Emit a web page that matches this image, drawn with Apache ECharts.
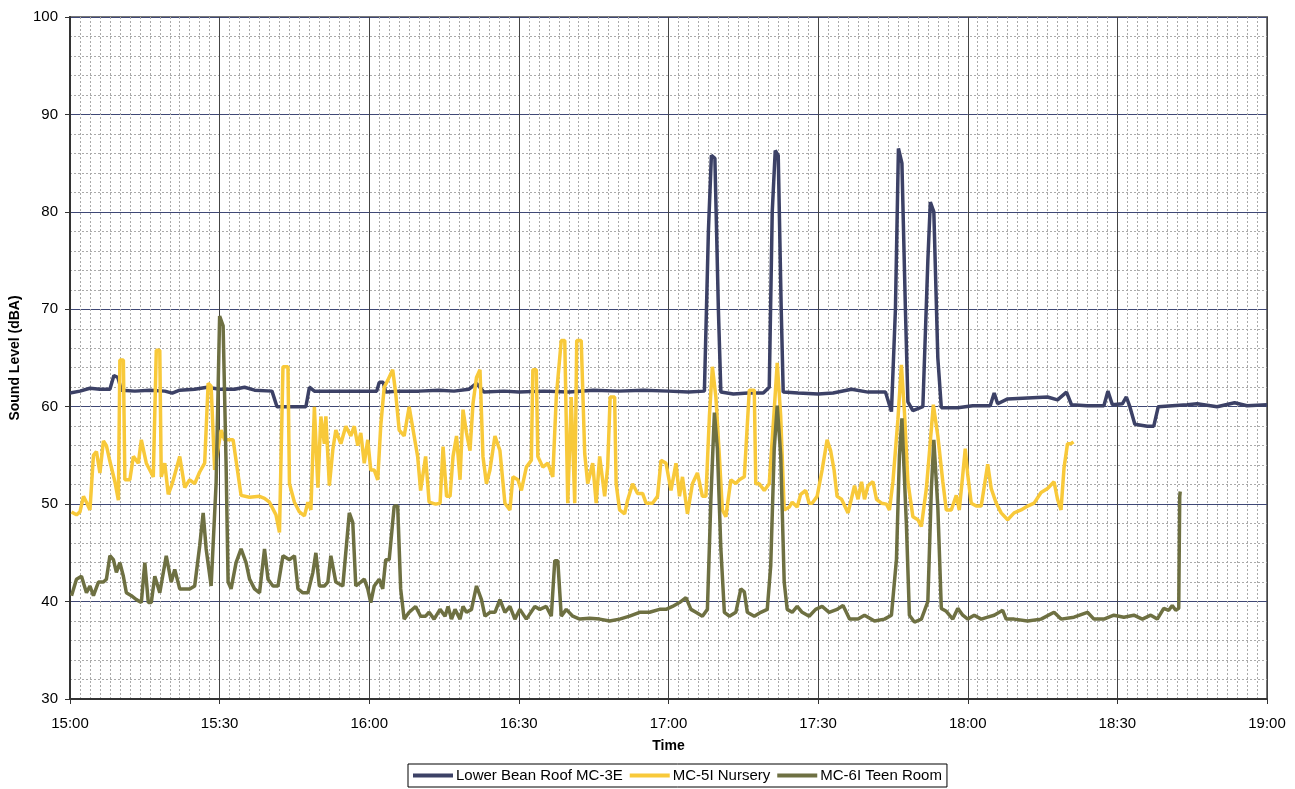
<!DOCTYPE html>
<html>
<head>
<meta charset="utf-8">
<script src="https://cdn.jsdelivr.net/npm/echarts@6/dist/echarts.min.js"></script>
<style>html,body{margin:0;padding:0;background:#fff}#c{width:1295px;height:789px}</style>
</head>
<body>
<div id="c"></div>
<script>
// time in minutes after 15:00, value in dBA
const tickLabels = ['15:00','15:30','16:00','16:30','17:00','17:30','18:00','18:30','19:00'];
const seriesNames = ['Lower Bean Roof MC-3E','MC-5I Nursery','MC-6I Teen Room'];

const roofData = [[0,61.4],[2,61.6],[4,61.9],[6,61.8],[8,61.8],[8.8,63.2],[9.6,63.0],[10.3,61.7],[13,61.6],[16,61.7],[19,61.6],[20.5,61.4],[22,61.7],[25,61.8],[27.5,62.0],[30,61.8],[33,61.8],[35,62.0],[37,61.7],[40.5,61.6],[41.5,60.0],[44,60.0],[47.3,60.0],[48,62.0],[49,61.6],[52,61.6],[56,61.6],[60,61.6],[61.5,61.6],[62,62.5],[62.8,62.5],[63.3,61.5],[66,61.6],[70,61.6],[74,61.7],[77,61.6],[80,61.8],[81.5,62.4],[83,61.5],[87,61.6],[90,61.5],[95,61.6],[100,61.5],[105,61.7],[110,61.6],[115,61.7],[120,61.6],[124,61.5],[127.2,61.6],[128,78],[128.6,85.8],[129.3,85.5],[130,70],[130.5,61.5],[133,61.3],[136,61.4],[139,61.4],[140.2,62],[140.8,80],[141.4,86.3],[142,85.8],[142.6,70],[143,61.5],[146,61.4],[150,61.3],[153,61.4],[156.7,61.8],[160,61.5],[163.5,61.5],[164.7,59.5],[165.5,70],[166.1,86.5],[166.8,85],[167.5,70],[168,60.5],[169,59.6],[171,60],[172,75],[172.5,81],[173.2,80],[174,65],[174.7,59.9],[178,59.9],[181,60.1],[184.5,60.1],[185.3,61.4],[186,60.3],[188,60.8],[192,60.9],[196,61.0],[198,60.7],[199.8,61.5],[200.8,60.2],[204,60.1],[207.3,60.1],[208.1,61.6],[209,60.2],[211,60.3],[211.8,61],[212.5,60],[213.5,58.2],[216,58.0],[217.3,58],[218.2,60],[221,60.1],[224,60.2],[226,60.3],[230,60],[233.5,60.4],[236,60.1],[240,60.2]];

const nurseryData = [[0.3,49.2],[1.3,48.9],[2,49.2],[2.7,50.8],[3.3,50.2],[4,49.4],[4.7,55],[5.3,55.4],[6,53.2],[6.7,56.5],[7.3,56],[8,54.4],[9,52.3],[9.7,50.4],[10,64.8],[10.7,64.8],[11,52.5],[12,52.5],[12.7,54.9],[13.7,54.2],[14.3,56.6],[15.3,54.2],[16,53.5],[16.7,52.8],[17.3,65.8],[18,65.8],[18.3,52.8],[19,54.2],[19.7,51],[20.5,52.1],[22,54.9],[23,51.7],[24,52.5],[25,52.1],[26,53.3],[27,54.2],[27.7,62.4],[28.3,62.1],[29,53.5],[30.3,57.6],[31,56.6],[32.7,56.6],[34.3,50.9],[36,50.7],[38,50.8],[39,50.6],[40,50.2],[41.3,48.9],[42,47.1],[42.7,64.1],[43.7,64.1],[44,52.1],[45,50.2],[46,49.2],[47,48.8],[47.7,50.2],[48.3,49.4],[49,60],[49.7,51.7],[50.3,59],[51,56.2],[51.3,59],[52,51.9],[52.7,55.6],[53.3,57.6],[54.3,56.2],[55.3,58],[56.3,57],[57,58],[57.7,56],[58.3,57.3],[59,54.2],[59.7,56.6],[60.3,53.5],[61,53.5],[61.7,52.5],[62.3,58],[63,62],[63.7,62.7],[64.7,63.8],[65.3,61.4],[66,57.6],[67,57],[68,60],[69,57],[69.7,54.9],[70.3,51.4],[71.3,54.9],[72,50.2],[73.3,50],[74.2,50.1],[74.8,55.9],[75.5,50.8],[76.2,50.8],[76.8,54.9],[77.5,57],[78.2,52.5],[78.8,59.7],[79.5,57.3],[80.2,55.5],[80.8,60.3],[81.5,63],[82.2,63.8],[82.8,54.9],[83.5,52.1],[84.2,53.5],[85.2,57],[86.2,55.5],[87.2,50.1],[88.2,49.4],[88.8,52.8],[89.8,52.5],[90.5,51.4],[91.5,53.8],[92.5,54.5],[92.8,63.8],[93.5,63.8],[93.8,54.9],[94.8,53.8],[95.8,54.2],[96.8,52.8],[97.5,61],[98.5,66.8],[99.2,66.8],[99.8,50.1],[100.5,61],[101.2,50.1],[101.6,66.8],[102.5,66.8],[103.2,55.2],[103.8,52.1],[104.8,54.2],[105.5,50.1],[106.2,54.9],[107.2,50.8],[107.8,53.8],[108.3,61],[109.2,61],[109.5,52.1],[110.2,49.4],[111.2,49],[111.8,50.4],[112.8,52.1],[113.8,51.1],[114.8,51.1],[115.5,50.1],[116.8,50.1],[117.8,50.8],[118.5,54.5],[119.5,54.2],[120.5,51.4],[121.5,54.2],[122.2,50.8],[122.8,52.8],[123.8,49],[124.8,52.1],[125.8,53.2],[126.8,50.8],[127.5,50.8],[128.2,59],[128.8,64.1],[129.5,61],[130.2,54.9],[130.8,49.4],[131.5,48.7],[132.5,52.5],[133.5,52.1],[134.2,52.5],[135.2,52.8],[136.2,61.7],[137.2,61.7],[137.5,52.1],[138.2,52.1],[139.2,51.4],[140.2,52.1],[141.2,59.7],[141.8,64.5],[142.5,59],[143.2,49.4],[144.2,49.7],[144.8,50.2],[145.8,49.7],[146.5,51],[147.5,51.4],[148.2,50.1],[148.8,50.1],[149.8,50.8],[150.8,53.5],[151.8,56.6],[152.5,55.5],[153.2,53.5],[153.8,50.8],[154.7,50.5],[156,49.1],[157.3,51.9],[158,50.5],[158.7,52.3],[159.3,50.5],[160,51.9],[161,52.3],[161.7,50.5],[162.7,50.1],[163.7,50],[164.3,49.4],[165,52.3],[166,58.7],[166.7,64.3],[167.3,59.5],[168,52.3],[169,48.7],[170,48.4],[170.7,47.7],[171.7,51.6],[172.3,55.2],[173.1,60.2],[174,57],[175,52.3],[175.7,49.4],[176.7,49.4],[177.7,50.9],[178.3,49.4],[179,53],[179.5,55.7],[180,53],[180.7,50.1],[181.7,49.8],[182.7,49.8],[184,54.1],[184.7,51.6],[185.7,50.1],[186.7,49.1],[188,48.4],[189.3,49.1],[190.7,49.4],[192,49.8],[193.3,50.1],[194.7,51.2],[196,51.6],[197.3,52.3],[198,50.5],[198.7,49.4],[199.3,53.7],[200,56.2],[200.7,56.2],[201.2,56.4]];

const teenData = [[0.3,40.6],[1.3,42.3],[2.3,42.6],[3.3,40.9],[4,41.6],[4.7,40.6],[5.7,42],[6.7,42],[7.3,42.3],[8,44.7],[8.7,44.3],[9.3,43],[10,44],[10.7,42.6],[11.3,40.9],[12.3,40.6],[13.3,40.2],[14.3,39.9],[15,44],[15.7,39.9],[16.3,39.9],[17,42.6],[18,40.9],[19.3,44.7],[20.3,42],[21,43.3],[22,41.3],[23,41.3],[24,41.3],[25,41.6],[26,45.7],[26.7,49.1],[27.3,45.4],[28.3,41.6],[29.3,52.2],[30,69.3],[30.7,68.3],[31.3,54],[31.7,42],[32.3,41.3],[33.3,44],[34.3,45.4],[35.3,44],[36,42.3],[37,41.3],[38,40.9],[39,45.4],[39.7,42.3],[40.7,41.6],[41.7,41.6],[42.7,44.7],[44,44.3],[45,44.7],[45.7,41.3],[46.7,40.9],[47.7,40.9],[48.7,43],[49.3,45],[50,41.6],[51,41.6],[51.7,42],[52.3,44.7],[53.3,42],[54.7,41.6],[56,49.1],[56.7,48.1],[57.3,41.6],[58.3,42],[59,42.3],[59.7,41.3],[60.3,39.9],[61,41.6],[62,42.3],[62.7,41.3],[63.3,44.3],[64,44.3],[65,49.8],[65.7,49.8],[66.3,41.3],[67,38.2],[68,38.9],[69.3,39.5],[70.3,38.5],[71.3,38.5],[72,38.9],[73,38.2],[74.2,39.2],[75.2,38.5],[75.8,39.5],[76.5,38.2],[77.2,39.2],[78.2,38.2],[78.8,39.5],[79.5,38.9],[80.5,39.2],[81.5,41.6],[82.5,40.2],[83.2,38.5],[84.2,38.9],[85.2,38.9],[86.2,40.2],[87.2,38.9],[88.2,39.5],[89.2,38.2],[90.2,39.2],[91.5,38.2],[93.2,39.5],[94.2,39.2],[95.5,39.5],[96.5,38.5],[97.2,44.2],[97.8,44.2],[98.5,38.5],[99.5,39.2],[100.8,38.5],[102.2,38.2],[104.2,38.3],[106.2,38.2],[108.2,38],[110.2,38.2],[112.2,38.5],[114.2,38.9],[116.2,38.9],[118.2,39.2],[119.5,39.2],[120.8,39.5],[122.2,39.9],[123.5,40.4],[124.5,39.2],[125.5,38.9],[126.8,38.5],[127.8,39.2],[128.5,50.5],[129.2,59.4],[129.8,55.7],[130.5,45.4],[131.2,38.9],[132.2,38.5],[133.5,38.9],[134.5,41.3],[135.2,41],[135.8,38.9],[137.2,38.5],[138.5,38.9],[139.8,39.2],[140.5,43.7],[141.2,55.7],[141.8,60.1],[142.5,55],[143.2,42],[143.8,39.2],[144.8,38.9],[145.8,39.5],[146.8,38.9],[148.2,38.5],[149.5,39.2],[150.8,39.5],[152.2,38.9],[153.8,39.2],[155,39.6],[156.3,38.2],[158,38.2],[159.3,38.6],[161.3,38],[163.3,38.2],[164.7,38.6],[165.7,44.3],[166.3,55],[166.8,58.8],[167.7,47.9],[168.3,38.6],[169.3,37.9],[170.7,38.2],[172,40],[172.7,51.5],[173.2,56.6],[174,49.7],[174.7,39.3],[175.7,39],[177,38.2],[178,39.3],[179,38.6],[180,38.2],[181.3,38.6],[182.7,38.2],[184,38.4],[185.3,38.6],[187,39.1],[187.7,38.2],[189.3,38.2],[192,38],[194.7,38.2],[197.3,38.9],[198.7,38.2],[201.3,38.4],[204,38.9],[205.3,38.2],[207.3,38.2],[209.3,38.6],[211.3,38.4],[213.3,38.6],[215,38.2],[216.7,38.6],[218,38.2],[219.3,39.3],[220.3,39.1],[221,39.6],[221.7,39.1],[222.3,39.3],[222.5,50.8],[222.6,51.3]];

const colors = ['#3c4166','#f8c93a','#6e7042'];
const FONT = '"Liberation Sans", Arial, sans-serif';

const chart = echarts.init(document.getElementById('c'), null, {renderer:'canvas'});
chart.setOption({
  animation: false,
  backgroundColor: '#fff',
  grid: {left: 70, right: 28, top: 17, bottom: 90, show: true, borderColor: '#777', borderWidth: 2, backgroundColor: 'transparent'},
  xAxis: {
    type: 'value', min: 0, max: 240, interval: 30,
    name: 'Time', nameLocation: 'middle', nameGap: 40,
    nameTextStyle: {fontFamily: FONT, fontSize: 14, fontWeight: 'bold', color: '#000'},
    axisLine: {show: true, lineStyle: {color: '#333', width: 2}},
    axisTick: {show: true, length: 5, lineStyle: {color: '#333'}},
    axisLabel: {margin: 17, fontFamily: FONT, fontSize: 15, color: '#000',
      formatter: v => tickLabels[Math.round(v / 30)]},
    splitLine: {show: true, lineStyle: {color: '#444', width: 1}},
    minorTick: {show: false, splitNumber: 15},
    minorSplitLine: {show: true, lineStyle: {color: '#aaa', width: 1, type: [2, 2]}}
  },
  yAxis: {
    type: 'value', min: 30, max: 100, interval: 10,
    name: 'Sound Level (dBA)', nameLocation: 'middle', nameGap: 45,
    nameTextStyle: {fontFamily: FONT, fontSize: 14, fontWeight: 'bold', color: '#000'},
    axisLine: {show: true, lineStyle: {color: '#333', width: 2}},
    axisTick: {show: true, length: 5, lineStyle: {color: '#333'}},
    axisLabel: {margin: 12, fontFamily: FONT, fontSize: 15, color: '#000'},
    splitLine: {show: true, lineStyle: {color: '#3e4775', width: 1}},
    minorTick: {show: false, splitNumber: 5},
    minorSplitLine: {show: true, lineStyle: {color: '#aaa', width: 1, type: [2, 2]}}
  },
  legend: {
    left: 408, top: 764, orient: 'horizontal',
    icon: 'rect', itemWidth: 40, itemHeight: 4, itemGap: 7,
    padding: [4, 5], borderColor: '#000', borderWidth: 1,
    textStyle: {fontFamily: FONT, fontSize: 15, color: '#000', padding: [0, 0, 0, -2]},
    data: seriesNames
  },
  series: [
    {name: seriesNames[0], type: 'line', data: roofData, showSymbol: false, symbol: 'none', lineStyle: {width: 3.5, color: colors[0]}, itemStyle: {color: colors[0]}},
    {name: seriesNames[1], type: 'line', data: nurseryData, showSymbol: false, symbol: 'none', lineStyle: {width: 3.5, color: colors[1]}, itemStyle: {color: colors[1]}},
    {name: seriesNames[2], type: 'line', data: teenData, showSymbol: false, symbol: 'none', lineStyle: {width: 3.5, color: colors[2]}, itemStyle: {color: colors[2]}}
  ]
});
</script>
</body>
</html>
